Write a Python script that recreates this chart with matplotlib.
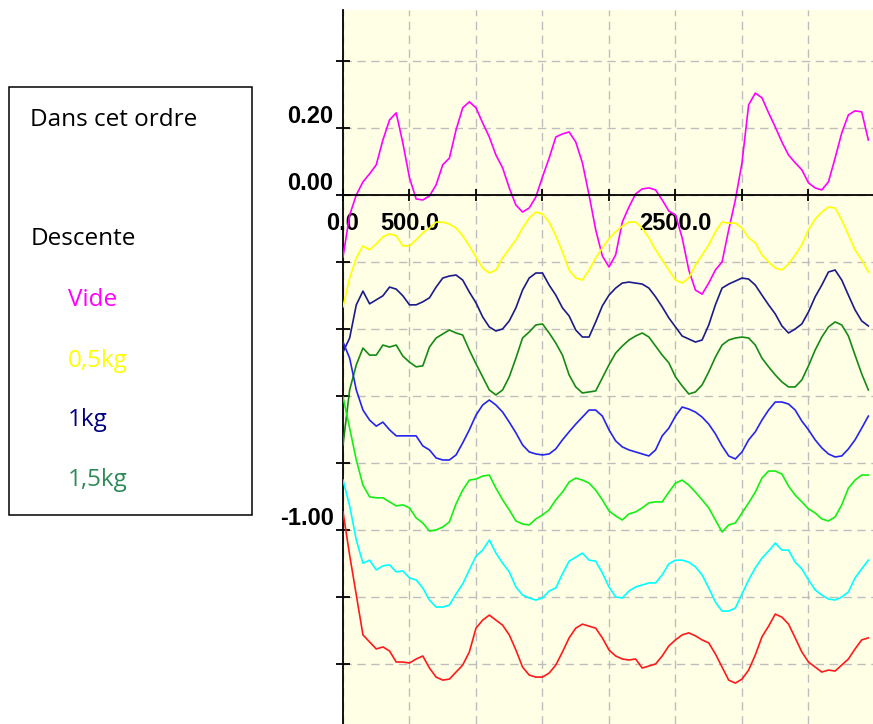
import matplotlib
matplotlib.use("Agg")
import matplotlib.pyplot as plt
import numpy as np
from matplotlib.patches import Rectangle
from matplotlib.transforms import ScaledTranslation

# time axis, one reading every 50
time_ms = np.arange(0, 4000, 50)

vide = [-0.185, -0.060, 0.000, 0.039, 0.063, 0.090, 0.164, 0.224, 0.245, 0.155,
        0.051, -0.012, -0.015, -0.003, 0.030, 0.090, 0.110, 0.194, 0.260, 0.278,
        0.260, 0.215, 0.173, 0.119, 0.081, 0.021, -0.030, -0.051, -0.039, -0.006,
        0.054, 0.110, 0.173, 0.182, 0.188, 0.158, 0.096, 0.000, -0.104, -0.182,
        -0.215, -0.179, -0.081, -0.036, 0.003, 0.018, 0.021, 0.015, -0.015, -0.048,
        -0.060, -0.128, -0.224, -0.284, -0.296, -0.263, -0.224, -0.200, -0.104, -0.015,
        0.096, 0.269, 0.304, 0.290, 0.245, 0.203, 0.158, 0.119, 0.096, 0.075,
        0.036, 0.021, 0.015, 0.039, 0.110, 0.185, 0.239, 0.251, 0.248, 0.164]

kg_05 = [-0.334, -0.248, -0.188, -0.152, -0.164, -0.146, -0.125, -0.116, -0.122, -0.152,
         -0.152, -0.134, -0.113, -0.099, -0.081, -0.081, -0.087, -0.099, -0.122, -0.152,
         -0.185, -0.218, -0.233, -0.224, -0.188, -0.161, -0.134, -0.099, -0.069, -0.051,
         -0.057, -0.081, -0.122, -0.170, -0.224, -0.248, -0.254, -0.224, -0.188, -0.158,
         -0.131, -0.110, -0.093, -0.081, -0.081, -0.099, -0.128, -0.164, -0.194, -0.224,
         -0.254, -0.263, -0.248, -0.209, -0.179, -0.149, -0.110, -0.081, -0.084, -0.084,
         -0.099, -0.128, -0.143, -0.179, -0.200, -0.218, -0.224, -0.206, -0.179, -0.149,
         -0.104, -0.072, -0.051, -0.036, -0.039, -0.075, -0.119, -0.164, -0.194, -0.230]

kg_1 = [-0.469, -0.427, -0.328, -0.287, -0.325, -0.313, -0.301, -0.275, -0.281, -0.301,
        -0.328, -0.328, -0.319, -0.307, -0.275, -0.248, -0.242, -0.239, -0.254, -0.290,
        -0.322, -0.364, -0.394, -0.406, -0.400, -0.376, -0.337, -0.284, -0.248, -0.233,
        -0.233, -0.269, -0.299, -0.337, -0.361, -0.403, -0.424, -0.424, -0.379, -0.331,
        -0.299, -0.278, -0.263, -0.260, -0.263, -0.266, -0.278, -0.304, -0.334, -0.367,
        -0.394, -0.421, -0.430, -0.439, -0.433, -0.388, -0.328, -0.278, -0.266, -0.257,
        -0.248, -0.251, -0.269, -0.299, -0.328, -0.355, -0.391, -0.412, -0.400, -0.385,
        -0.349, -0.304, -0.269, -0.230, -0.224, -0.254, -0.299, -0.343, -0.376, -0.391]

kg_15 = [-0.746, -0.582, -0.507, -0.457, -0.478, -0.478, -0.448, -0.454, -0.448, -0.481,
         -0.499, -0.513, -0.510, -0.454, -0.427, -0.415, -0.403, -0.412, -0.418, -0.463,
         -0.504, -0.543, -0.582, -0.597, -0.582, -0.543, -0.487, -0.427, -0.409, -0.388,
         -0.385, -0.412, -0.442, -0.478, -0.537, -0.573, -0.591, -0.588, -0.585, -0.546,
         -0.507, -0.472, -0.451, -0.433, -0.421, -0.412, -0.424, -0.451, -0.478, -0.501,
         -0.543, -0.570, -0.594, -0.588, -0.567, -0.528, -0.484, -0.448, -0.433, -0.427,
         -0.424, -0.427, -0.448, -0.487, -0.513, -0.537, -0.558, -0.573, -0.573, -0.552,
         -0.510, -0.463, -0.424, -0.394, -0.379, -0.388, -0.421, -0.478, -0.534, -0.582]

blue_run = [-0.439, -0.487, -0.582, -0.642, -0.672, -0.690, -0.678, -0.701, -0.719, -0.719,
            -0.719, -0.719, -0.749, -0.761, -0.785, -0.791, -0.791, -0.776, -0.740, -0.701,
            -0.657, -0.627, -0.612, -0.627, -0.648, -0.678, -0.710, -0.746, -0.767, -0.773,
            -0.776, -0.773, -0.758, -0.731, -0.707, -0.684, -0.663, -0.642, -0.642, -0.660,
            -0.701, -0.734, -0.752, -0.761, -0.767, -0.773, -0.779, -0.761, -0.719, -0.696,
            -0.660, -0.633, -0.639, -0.648, -0.663, -0.684, -0.713, -0.749, -0.779, -0.788,
            -0.767, -0.731, -0.707, -0.672, -0.642, -0.618, -0.618, -0.624, -0.642, -0.675,
            -0.701, -0.731, -0.755, -0.773, -0.782, -0.779, -0.758, -0.731, -0.696, -0.660]

lime_run = [-0.603, -0.696, -0.791, -0.866, -0.901, -0.904, -0.904, -0.916, -0.928, -0.925,
            -0.934, -0.964, -0.979, -1.003, -1.000, -0.991, -0.976, -0.922, -0.881, -0.851,
            -0.848, -0.839, -0.836, -0.875, -0.910, -0.940, -0.973, -0.982, -0.985, -0.967,
            -0.955, -0.940, -0.910, -0.887, -0.857, -0.845, -0.851, -0.860, -0.881, -0.910,
            -0.943, -0.958, -0.970, -0.952, -0.946, -0.934, -0.919, -0.916, -0.916, -0.887,
            -0.860, -0.851, -0.866, -0.887, -0.910, -0.934, -0.970, -1.006, -0.985, -0.979,
            -0.949, -0.919, -0.887, -0.845, -0.824, -0.824, -0.833, -0.869, -0.896, -0.916,
            -0.937, -0.949, -0.967, -0.973, -0.961, -0.925, -0.875, -0.851, -0.836, -0.836]

cyan_run = [-0.851, -0.928, -1.030, -1.099, -1.090, -1.119, -1.107, -1.104, -1.125, -1.122,
            -1.143, -1.149, -1.173, -1.209, -1.230, -1.230, -1.224, -1.191, -1.161, -1.119,
            -1.078, -1.060, -1.030, -1.069, -1.099, -1.125, -1.170, -1.194, -1.203, -1.209,
            -1.203, -1.182, -1.173, -1.131, -1.093, -1.081, -1.069, -1.090, -1.093, -1.128,
            -1.170, -1.200, -1.203, -1.182, -1.170, -1.164, -1.158, -1.158, -1.134, -1.101,
            -1.090, -1.090, -1.096, -1.110, -1.134, -1.173, -1.215, -1.242, -1.242, -1.233,
            -1.191, -1.149, -1.113, -1.084, -1.063, -1.039, -1.060, -1.060, -1.096, -1.116,
            -1.149, -1.179, -1.194, -1.206, -1.209, -1.200, -1.185, -1.143, -1.116, -1.090]

red_run = [-0.946, -1.075, -1.194, -1.313, -1.334, -1.355, -1.349, -1.361, -1.394, -1.394,
           -1.397, -1.385, -1.376, -1.412, -1.439, -1.448, -1.445, -1.424, -1.403, -1.364,
           -1.293, -1.269, -1.254, -1.269, -1.284, -1.313, -1.358, -1.409, -1.433, -1.439,
           -1.439, -1.427, -1.403, -1.364, -1.322, -1.293, -1.281, -1.287, -1.293, -1.322,
           -1.358, -1.376, -1.385, -1.388, -1.385, -1.412, -1.406, -1.400, -1.376, -1.346,
           -1.328, -1.313, -1.307, -1.316, -1.328, -1.337, -1.370, -1.409, -1.448, -1.457,
           -1.445, -1.418, -1.373, -1.319, -1.287, -1.251, -1.260, -1.281, -1.322, -1.364,
           -1.394, -1.409, -1.424, -1.418, -1.421, -1.403, -1.385, -1.355, -1.328, -1.322]

series = [vide, kg_05, kg_1, kg_15, blue_run, lime_run, cyan_run, red_run]
colors = ["#FF00FF", "#FFFF00", "#1A1A8C", "#158A15", "#2424F0", "#14F014", "#00FFFF", "#FF1A1A"]

x_ticks = [0, 500, 1000, 1500, 2000, 2500, 3000, 3500]
x_labels = ["0.0", "500.0", "", "", "", "2500.0", "", ""]
y_ticks = [0.4, 0.2, 0.0, -0.2, -0.4, -0.6, -0.8, -1.0, -1.2, -1.4]
y_labels = ["", "0.20", "0.00", "", "", "", "", "-1.00", "", ""]

legend_lines = ["Vide", "0,5kg", "1kg", "1,5kg"]
legend_colors = ["#FF00FF", "#FFFF00", "#000080", "#2E8B57"]

W, H = 873, 724
fig = plt.figure(figsize=(W / 100, H / 100), dpi=100)
ax = fig.add_axes([343 / W, 0, 530 / W, 714 / H])
ax.set_facecolor("#FFFFE6")

for values, color in zip(series, colors):
    ax.plot(time_ms, values, color=color, lw=1.2, zorder=3)

ax.set_xlim(0, 3985)
ax.set_ylim(-1.579, 0.552)

ax.grid(True, color="#BDBDBD", lw=1.0, linestyle=(0, (6, 4)), zorder=1)
ax.set_axisbelow(True)

ax.spines["top"].set_visible(False)
ax.spines["right"].set_visible(False)
ax.spines["bottom"].set_position(("data", 0))
ax.spines["bottom"].set_linewidth(1.3)
ax.spines["left"].set_linewidth(1.3)
ax.spines["bottom"].set_zorder(4)

tick_font = {"family": "Liberation Sans", "weight": "bold", "size": 17}

ax.set_xticks(x_ticks)
ax.set_xticklabels(x_labels, fontdict=tick_font)
ax.tick_params(axis="x", direction="inout", length=8.6, width=1.3, pad=8)

ax.set_yticks(y_ticks)
ax.set_yticklabels(y_labels, fontdict=tick_font)
ax.tick_params(axis="y", direction="inout", length=9.5, width=1.3, pad=2)
shift = ScaledTranslation(0, 0.14, fig.dpi_scale_trans)
for lab in ax.get_yticklabels():
    lab.set_transform(lab.get_transform() + shift)

for lab in ax.get_xticklabels():
    lab.set_zorder(5)

# text box on the left
fig.add_artist(Rectangle((9.3 / W, 1 - 515 / H), 242.4 / W, 427.7 / H,
                         transform=fig.transFigure, fill=False, ec="black", lw=1.1))

box_font = {"family": "Open Sans", "size": 17.5}
fig.text(30.5 / W, 1 - 126 / H, "Dans cet ordre", color="black", va="baseline", **box_font)
fig.text(30.5 / W, 1 - 245.5 / H, "Descente", color="black", va="baseline", **box_font)
baselines = [306, 367, 426.5, 486]
for label, color, base in zip(legend_lines, legend_colors, baselines):
    fig.text(68 / W, 1 - base / H, label, color=color, va="baseline", **box_font)

fig.savefig("out.png", dpi=100)
